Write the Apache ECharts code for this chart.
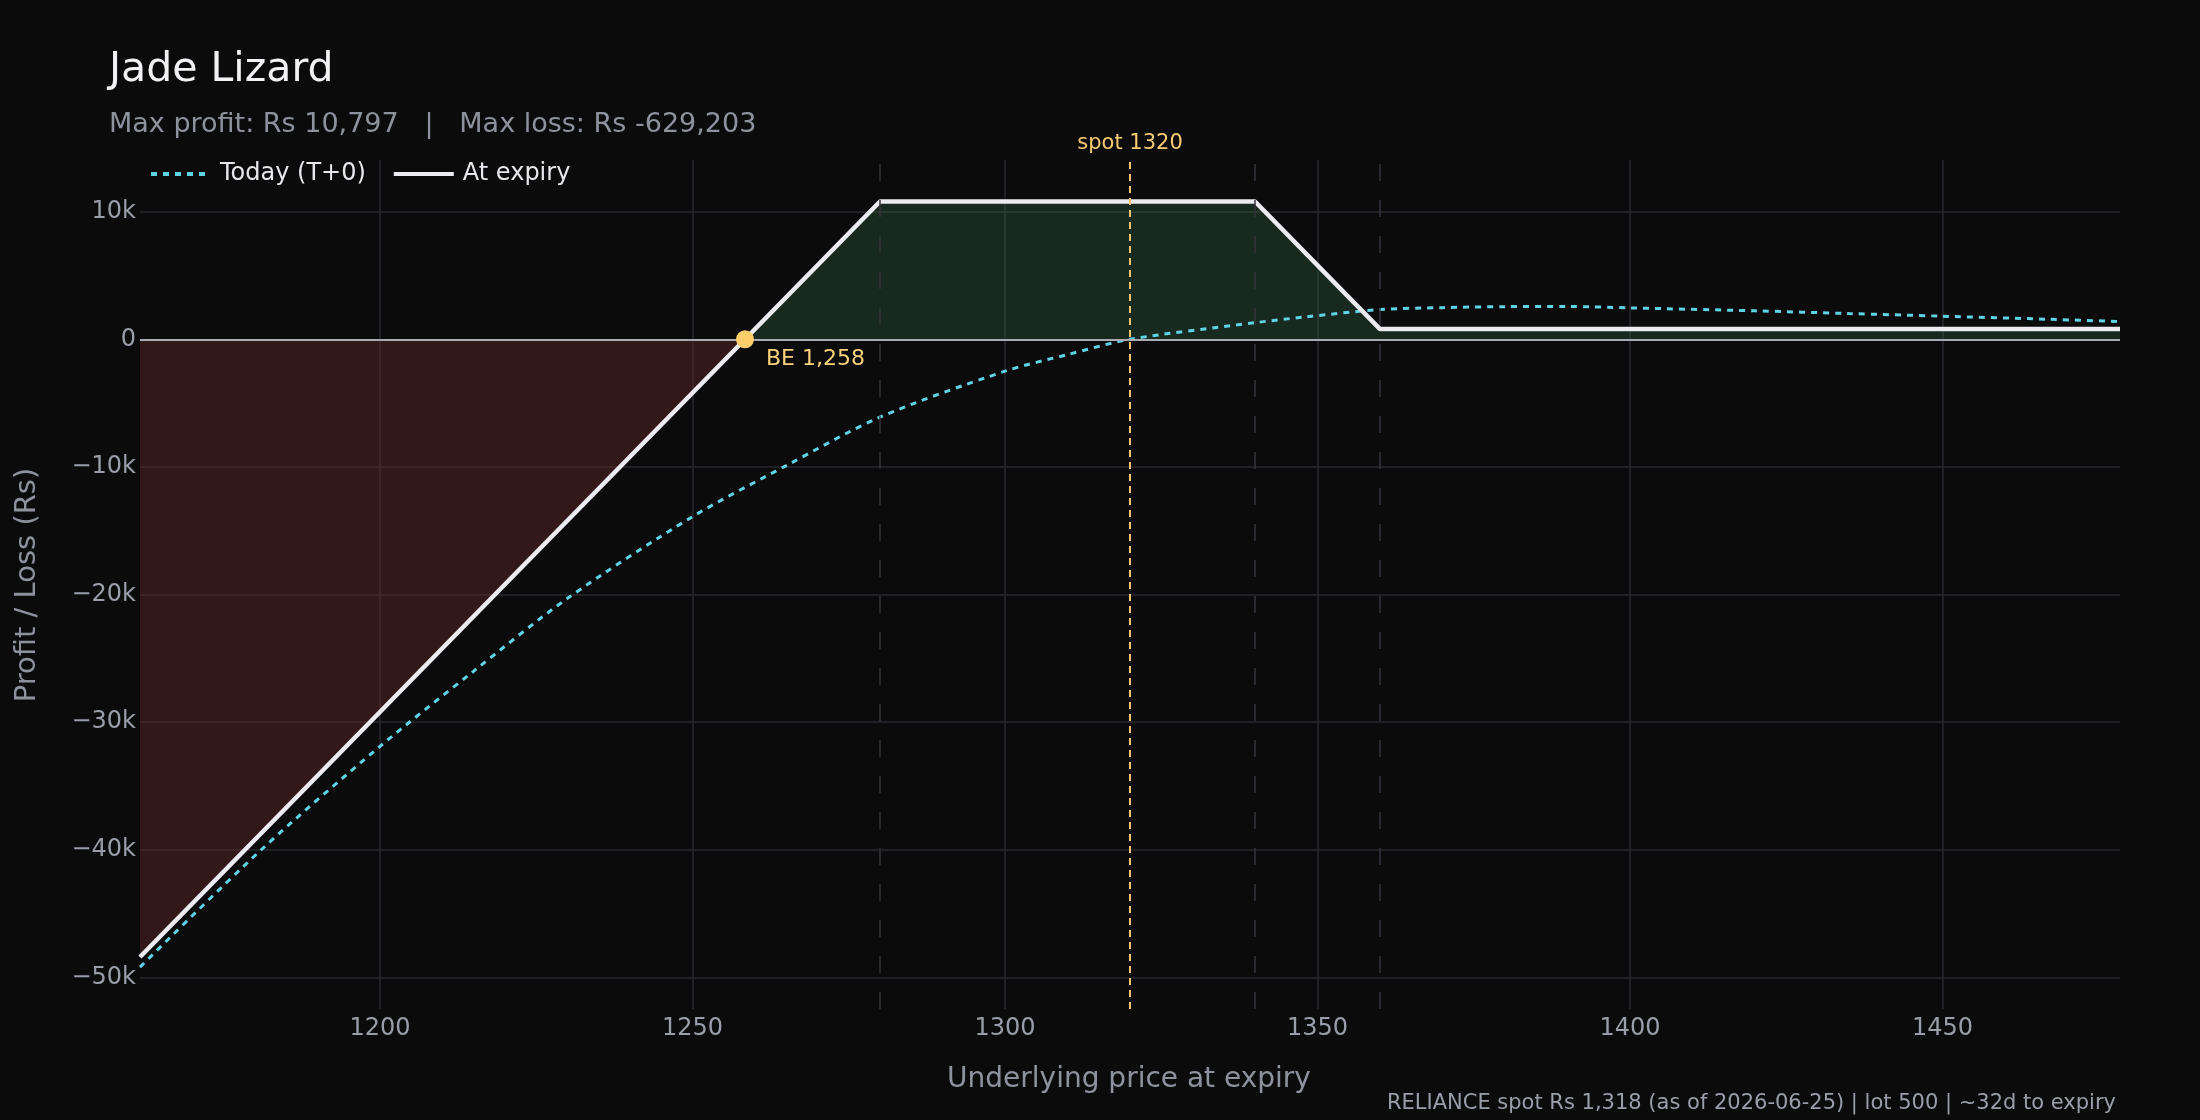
<!DOCTYPE html>
<html>
<head>
<meta charset="utf-8">
<script src="https://cdn.jsdelivr.net/npm/echarts@6/dist/echarts.min.js"></script>
<style>
  html, body { margin: 0; background: #0b0b0c; }
  #main { width: 2200px; height: 1120px; }
</style>
</head>
<body>
<div id="main"></div>
<script>
// strategy numbers
var spot = 1320
var strikes = [1280, 1340, 1360]
var breakEven = 1258.4
var xRange = [1161.6, 1478.4]
var yRange = [-52480, 14050]

// at expiry payoff (kink points)
var expiryX = [1161.6, 1258.4, 1280, 1340, 1360, 1478.4]
var expiryY = [-48403, 0, 10797, 10797, 797, 797]

// today (T+0)
var todayX = [1161.6, 1181, 1200, 1215, 1230, 1250, 1265, 1280, 1300, 1310, 1320, 1340, 1348, 1360, 1370, 1380, 1390, 1400, 1420, 1435, 1450, 1467, 1478.4]
var todayY = [-49200, -40000, -31900, -26000, -20300, -13900, -9900, -6100, -2500, -1200, 0, 1300, 1750, 2330, 2480, 2560, 2570, 2460, 2230, 2020, 1810, 1570, 1390]

var FONT = 'DejaVu Sans'
var GRAY = '#9a9ea8'

function pairs(xs, ys) {
  return xs.map(function (x, i) { return [x, ys[i]] })
}

var expiry = pairs(expiryX, expiryY)
var beIdx = expiryX.indexOf(breakEven)
var lossPart = expiry.slice(0, beIdx + 1)
var profitPart = expiry.slice(beIdx)

function kLabel(v) {
  if (v === 0) return '0'
  return (v < 0 ? '\u2212' : '') + Math.abs(v) / 1000 + 'k'
}

var chart = echarts.init(document.getElementById('main'), null, { renderer: 'canvas' })

chart.setOption({
  backgroundColor: '#0b0b0c',
  animation: false,
  textStyle: { fontFamily: FONT },
  grid: { left: 140, right: 80, top: 160, bottom: 111 },
  legend: {
    left: 144,
    top: 157,
    itemWidth: 60,
    itemHeight: 14,
    itemGap: 26,
    itemStyle: { opacity: 0 },
    lineStyle: { width: 4 },
    textStyle: { color: '#e8e8ec', fontSize: 24, fontFamily: FONT, padding: [0, 0, 0, 4] },
    data: ['Today (T+0)', 'At expiry']
  },
  xAxis: {
    type: 'value',
    min: xRange[0],
    max: xRange[1],
    minInterval: 50,
    maxInterval: 50,
    axisLine: { show: false },
    axisTick: { show: false },
    axisLabel: {
      color: GRAY, fontSize: 24, margin: 8,
      showMinLabel: false, showMaxLabel: false,
      formatter: function (v) { return String(v) }
    },
    splitLine: {
      show: true, showMinLine: false, showMaxLine: false,
      lineStyle: { color: '#28282e', width: 1.5 }
    }
  },
  yAxis: {
    type: 'value',
    min: yRange[0],
    max: yRange[1],
    minInterval: 10000,
    maxInterval: 10000,
    axisLine: { show: false },
    axisTick: { show: false },
    axisLabel: {
      color: GRAY, fontSize: 24, margin: 4,
      showMinLabel: false, showMaxLabel: false,
      formatter: kLabel
    },
    splitLine: {
      show: true, showMinLine: false, showMaxLine: false,
      lineStyle: { color: '#28282e', width: 1.5 }
    }
  },
  graphic: [
    { type: 'text', x: 109, y: 70, style: { text: 'Jade Lizard', fontSize: 41, fontFamily: FONT, fill: '#f2f2f4', align: 'left', verticalAlign: 'middle' } },
    { type: 'text', x: 109, y: 125, style: { text: 'Max profit: Rs 10,797   |   Max loss: Rs -629,203', fontSize: 27, fontFamily: FONT, fill: '#8d929c', align: 'left', verticalAlign: 'middle' } },
    { type: 'text', x: 1129, y: 1080, style: { text: 'Underlying price at expiry', fontSize: 28, fontFamily: FONT, fill: '#8d929c', align: 'center', verticalAlign: 'middle' } },
    { type: 'text', x: 27, y: 585, rotation: Math.PI / 2, style: { text: 'Profit / Loss (Rs)', fontSize: 29, fontFamily: FONT, fill: '#8d929c', align: 'center', verticalAlign: 'middle' } },
    { type: 'text', x: 2116, y: 1104, style: { text: 'RELIANCE spot Rs 1,318 (as of 2026-06-25) | lot 500 | ~32d to expiry', fontSize: 21, fontFamily: FONT, fill: '#9a9ea8', align: 'right', verticalAlign: 'middle' } }
  ],
  series: [
    {
      name: 'loss',
      type: 'line',
      data: lossPart,
      symbol: 'none',
      lineStyle: { width: 0 },
      areaStyle: { color: 'rgba(120,46,50,0.36)', opacity: 1, origin: 'auto' },
      z: 1,
      silent: true
    },
    {
      name: 'profit',
      type: 'line',
      data: profitPart,
      symbol: 'none',
      lineStyle: { width: 0 },
      areaStyle: { color: 'rgba(52,110,72,0.32)', opacity: 1, origin: 'auto' },
      z: 1,
      silent: true,
      markLine: {
        silent: true,
        symbol: 'none',
        label: { show: false },
        data: strikes.map(function (k) {
          return { xAxis: k, lineStyle: { color: '#34343b', width: 1.5, type: [17, 19] } }
        }).concat([
          { yAxis: 0, lineStyle: { color: '#a9abb2', width: 2, type: 'solid' } }
        ])
      }
    },
    {
      name: 'Today (T+0)',
      type: 'line',
      data: pairs(todayX, todayY),
      symbol: 'none',
      smooth: 0.3,
      lineStyle: { color: '#5fd4e6', width: 3, type: [6, 6] },
      itemStyle: { color: '#5fd4e6' },
      z: 3
    },
    {
      name: 'At expiry',
      type: 'line',
      data: expiry,
      symbol: 'none',
      lineStyle: { color: '#ececf0', width: 4.5 },
      itemStyle: { color: '#ececf0' },
      z: 4,
      markLine: {
        silent: true,
        symbol: 'none',
        data: [{
          xAxis: spot,
          lineStyle: { color: '#f5c66b', width: 2, type: [7, 5] },
          label: {
            show: true, position: 'end', formatter: 'spot ' + spot,
            color: '#f7cc72', fontSize: 21, fontFamily: FONT, distance: 6
          }
        }]
      }
    },
    {
      name: 'BE',
      type: 'scatter',
      data: [[breakEven, 0]],
      symbolSize: 18,
      itemStyle: { color: '#fccf6a', opacity: 1 },
      z: 6,
      label: {
        show: true,
        formatter: 'BE 1,258',
        position: [30, 18],
        align: 'left',
        verticalAlign: 'top',
        color: '#f9d27a',
        opacity: 1,
        fontSize: 22,
        fontFamily: FONT
      }
    }
  ]
})
</script>
</body>
</html>
